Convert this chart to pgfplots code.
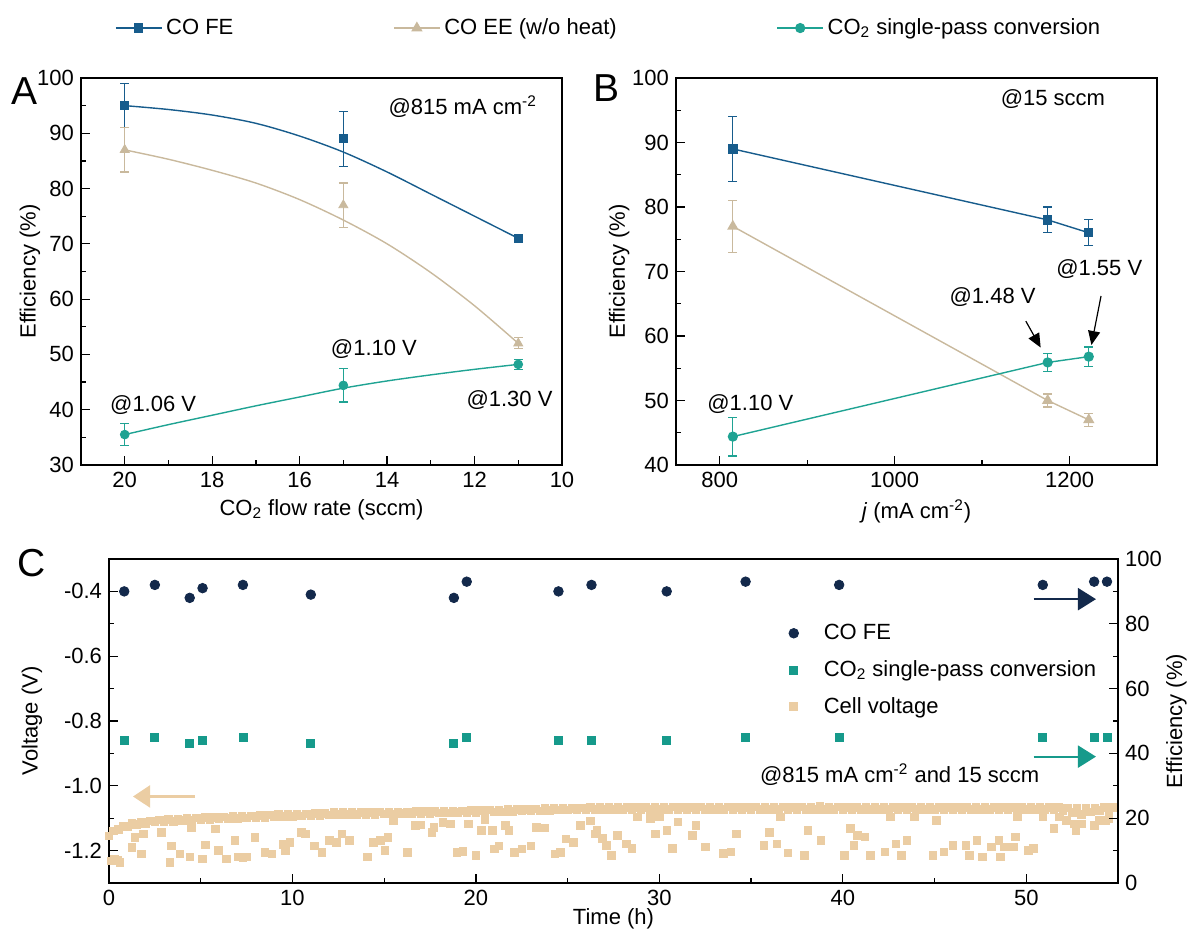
\documentclass[border=0pt]{standalone}
\usepackage{fontspec}
\setmainfont{Liberation Sans}
\usepackage{pgfplots}
\pgfplotsset{compat=1.18}
\usetikzlibrary{arrows.meta}

\definecolor{fe}{HTML}{175C8C}
\definecolor{ee}{HTML}{C9B99D}
\definecolor{cv}{HTML}{1FA393}
\definecolor{navy}{HTML}{13294B}
\definecolor{tealc}{HTML}{169A8B}
\definecolor{tanc}{HTML}{EBCDA3}

\newcommand\fs{\fontsize{11}{13}\selectfont}
\newcommand\panelfs{\fontsize{19.5}{21}\selectfont}

\pgfplotsset{
  base/.style={
    scale only axis,
    axis line style={line width=0.6pt},
    every tick/.style={black, line width=0.6pt},
    major tick length=4.5pt, minor tick length=2.5pt,
    tick label style={font=\fs},
    label style={font=\fs},
    /pgf/number format/assume math mode=true,
    /pgf/number format/set thousands separator={},
    clip mode=individual,
  },
  ebar/.style={error bars/.cd, y dir=both, y explicit,
    error bar style={#1, line width=0.6pt},
    error mark options={#1, rotate=90, line width=0.6pt, mark size=2.2pt}},
}

\begin{document}
\begin{tikzpicture}
\path[use as bounding box] (0,0) rectangle (595pt,468pt);

% ---------------- panel A ----------------
\begin{axis}[base, tick pos=left, at={(40.5pt,235.5pt)}, anchor=south west,
  width=240.5pt, height=193.5pt,
  xmin=10, xmax=21, x dir=reverse, xtick={10,12,...,20}, minor x tick num=1,
  ymin=30, ymax=100, ytick={30,40,...,100}, minor y tick num=1,
  xlabel={CO\textsubscript{2} flow rate (sccm)}, ylabel={Efficiency (\%)},
  xlabel style={at={(axis description cs:0.5,-0.116)}, anchor=center},
  ylabel style={at={(axis description cs:-0.106,0.5)}, anchor=center},
  legend columns=3,
  legend style={at={(axis description cs:0.058,1.129)}, anchor=west,
    draw=none, fill=none, font=\fs,
    /tikz/every even column/.append style={column sep=78pt}},
  legend image code/.code={\draw[mark repeat=2,mark phase=2,#1]
    plot coordinates {(0cm,0cm) (0.4cm,0cm) (0.8cm,0cm)};},
]
\addlegendimage{fe, line width=0.7pt, mark=square*, mark size=2pt}
\addlegendentry{CO FE}
\addlegendimage{ee, line width=0.7pt, mark=triangle*, mark size=2.6pt}
\addlegendentry{CO EE (w/o heat)}
\addlegendimage{cv, line width=0.7pt, mark=*, mark size=2.2pt}
\addlegendentry{CO\textsubscript{2} single-pass conversion}

% fitted curves as drawn in the figure
\addplot[fe, line width=0.7pt, smooth, forget plot] coordinates {
  (20,95) (19,94.3) (18,93.3) (17,91.8) (16,89.5) (15,86.6) (14,83) (13,79) (12,75) (11,71)};
\addplot[ee, line width=0.7pt, smooth, forget plot] coordinates {
  (20,87) (19,85.3) (18,83.3) (17,81) (16,78) (15,74.3) (14,70) (13,64.8) (12,58.8) (11,52)};
\addplot[cv, line width=0.7pt, smooth, forget plot] coordinates {
  (20,35.5) (19,37.3) (18,39.0) (17,40.7) (16,42.3) (15,43.9) (14,45.2) (13,46.3) (12,47.3) (11,48.2)};

\addplot[fe, only marks, mark=square*, mark size=2pt, forget plot, ebar=fe] coordinates {
  (20,95) +- (0,4) (15,89) +- (0,5) (11,71) +- (0,0.7)};
\addplot[ee, only marks, mark=triangle*, mark size=2.6pt, forget plot, ebar=ee] coordinates {
  (20,87) +- (0,4) (15,77) +- (0,4) (11,52) +- (0,1)};
\addplot[cv, only marks, mark=*, mark size=2.2pt, forget plot, ebar=cv] coordinates {
  (20,35.5) +- (0,2) (15,44.4) +- (0,3) (11,48.2) +- (0,0.9)};

\node[font=\fs] at (axis cs:12.27,94.9) {@815 mA cm\textsuperscript{-2}};
\node[font=\fs] at (axis cs:14.3,51) {@1.10 V};
\node[font=\fs] at (axis cs:19.35,40.9) {@1.06 V};
\node[font=\fs] at (axis cs:11.2,41.8) {@1.30 V};
\end{axis}

% ---------------- panel B ----------------
\begin{axis}[base, tick pos=left, at={(338pt,235.5pt)}, anchor=south west,
  width=240.5pt, height=193.5pt,
  xmin=750, xmax=1300, xtick={800,1000,1200}, minor x tick num=1,
  ymin=40, ymax=100, ytick={40,50,...,100}, minor y tick num=1,
  xlabel={\textit{j} (mA cm\textsuperscript{-2})}, ylabel={Efficiency (\%)},
  xlabel style={at={(axis description cs:0.5,-0.121)}, anchor=center},
  ylabel style={at={(axis description cs:-0.118,0.5)}, anchor=center},
]
\addplot[fe, line width=0.7pt, mark=square*, mark size=2pt, mark options={solid}, ebar=fe] coordinates {
  (815,89) +- (0,5) (1175,78) +- (0,2) (1222,76) +- (0,2)};
\addplot[ee, line width=0.7pt, mark=triangle*, mark size=2.6pt, ebar=ee] coordinates {
  (815,77) +- (0,4) (1175,50) +- (0,1) (1222,47) +- (0,1)};
\addplot[cv, line width=0.7pt, mark=*, mark size=2.2pt, ebar=cv] coordinates {
  (815,44.4) +- (0,3) (1175,55.9) +- (0,1.4) (1222,56.8) +- (0,1.5)};

\node[font=\fs] at (axis cs:1181,96.7) {@15 sccm};
\node[font=\fs] at (axis cs:1234,70.4) {@1.55 V};
\node[font=\fs] at (axis cs:1112,66.1) {@1.48 V};
\node[font=\fs] at (axis cs:835,49.4) {@1.10 V};
\draw[-{Triangle[length=7pt,width=6pt]}, line width=0.6pt] (axis cs:1150,62.3) -- (axis cs:1167,58.2);
\draw[-{Triangle[length=7pt,width=6pt]}, line width=0.6pt] (axis cs:1236,66.2) -- (axis cs:1225,58.6);
\end{axis}

% ---------------- panel C, left axis: cell voltage ----------------
\begin{axis}[base, tick pos=left, at={(54.5pt,26.5pt)}, anchor=south west,
  width=504.5pt, height=162pt,
  xmin=0, xmax=55, xtick={0,10,...,50}, minor x tick num=1,
  ymin=-1.3, ymax=-0.3, ytick={-1.2,-1.0,-0.8,-0.6,-0.4},
  yticklabels={-1.2,-1.0,-0.8,-0.6,-0.4}, minor y tick num=1,
  xlabel={Time (h)}, ylabel={Voltage (V)},
  xlabel style={at={(axis description cs:0.5,-0.11)}, anchor=center},
  ylabel style={at={(axis description cs:-0.0763,0.5)}, anchor=center},
]
% main band
\addplot[only marks, mark=square*, mark size=1.9pt, color=tanc] coordinates {
(0,-1.155) (0.25,-1.139) (0.5,-1.135) (0.75,-1.124) (1,-1.126) (1.25,-1.116) (1.5,-1.120) (1.75,-1.112)
(2,-1.116) (2.25,-1.108) (2.5,-1.112) (2.75,-1.105) (3,-1.110) (3.25,-1.103) (3.5,-1.109) (3.75,-1.102)
(4,-1.107) (4.25,-1.100) (4.5,-1.106) (4.75,-1.099) (5,-1.104) (5.25,-1.098) (5.5,-1.103) (5.75,-1.097)
(6,-1.102) (6.25,-1.096) (6.5,-1.101) (6.75,-1.095) (7,-1.100) (7.25,-1.094) (7.5,-1.099) (7.75,-1.093)
(8,-1.098) (8.25,-1.092) (8.5,-1.097) (8.75,-1.090) (9,-1.096) (9.25,-1.089) (9.5,-1.095) (9.75,-1.088)
(10,-1.094) (10.25,-1.088) (10.5,-1.093) (10.75,-1.087) (11,-1.092) (11.25,-1.086) (11.5,-1.091) (11.75,-1.085)
(12,-1.090) (12.25,-1.083) (12.5,-1.089) (12.75,-1.083) (13,-1.089) (13.25,-1.083) (13.5,-1.088) (13.75,-1.082)
(14,-1.088) (14.25,-1.082) (14.5,-1.088) (14.75,-1.081) (15,-1.087) (15.25,-1.081) (15.5,-1.087) (15.75,-1.080)
(16,-1.086) (16.25,-1.080) (16.5,-1.086) (16.75,-1.079) (17,-1.085) (17.25,-1.079) (17.5,-1.085) (17.75,-1.079)
(18,-1.084) (18.25,-1.078) (18.5,-1.084) (18.75,-1.077) (19,-1.083) (19.25,-1.077) (19.5,-1.083) (19.75,-1.076)
(20,-1.082) (20.25,-1.076) (20.5,-1.081) (20.75,-1.075) (21,-1.081) (21.25,-1.074) (21.5,-1.080) (21.75,-1.073)
(22,-1.079) (22.25,-1.073) (22.5,-1.078) (22.75,-1.072) (23,-1.078) (23.25,-1.071) (23.5,-1.077) (23.75,-1.070)
(24,-1.076) (24.25,-1.070) (24.5,-1.075) (24.75,-1.069) (25,-1.075) (25.25,-1.069) (25.5,-1.074) (25.75,-1.068)
(26,-1.074) (26.25,-1.067) (26.5,-1.073) (26.75,-1.067) (27,-1.072) (27.25,-1.066) (27.5,-1.072) (27.75,-1.066)
(28,-1.072) (28.25,-1.066) (28.5,-1.073) (28.75,-1.066) (29,-1.072) (29.25,-1.067) (29.5,-1.073) (29.75,-1.066)
(30,-1.072) (30.25,-1.066) (30.5,-1.073) (30.75,-1.065) (31,-1.072) (31.25,-1.066) (31.5,-1.073) (31.75,-1.066)
(32,-1.072) (32.25,-1.065) (32.5,-1.073) (32.75,-1.066) (33,-1.072) (33.25,-1.066) (33.5,-1.073) (33.75,-1.065)
(34,-1.072) (34.25,-1.066) (34.5,-1.074) (34.75,-1.066) (35,-1.073) (35.25,-1.065) (35.5,-1.072) (35.75,-1.066)
(36,-1.073) (36.25,-1.066) (36.5,-1.072) (36.75,-1.065) (37,-1.073) (37.25,-1.066) (37.5,-1.072) (37.75,-1.065)
(38,-1.073) (38.25,-1.066) (38.5,-1.072) (38.75,-1.064) (39,-1.072) (39.25,-1.066) (39.5,-1.073) (39.75,-1.065)
(40,-1.072) (40.25,-1.066) (40.5,-1.073) (40.75,-1.066) (41,-1.072) (41.25,-1.066) (41.5,-1.073) (41.75,-1.065)
(42,-1.072) (42.25,-1.066) (42.5,-1.073) (42.75,-1.066) (43,-1.072) (43.25,-1.066) (43.5,-1.073) (43.75,-1.066)
(44,-1.072) (44.25,-1.066) (44.5,-1.073) (44.75,-1.066) (45,-1.072) (45.25,-1.066) (45.5,-1.073) (45.75,-1.066)
(46,-1.072) (46.25,-1.066) (46.5,-1.073) (46.75,-1.066) (47,-1.072) (47.25,-1.066) (47.5,-1.073) (47.75,-1.066)
(48,-1.072) (48.25,-1.066) (48.5,-1.073) (48.75,-1.066) (49,-1.072) (49.25,-1.066) (49.5,-1.073) (49.75,-1.066)
(50,-1.072) (50.25,-1.066) (50.5,-1.073) (50.75,-1.066) (51,-1.072) (51.25,-1.066) (51.5,-1.073) (51.75,-1.067)
(52,-1.076) (52.25,-1.068) (52.5,-1.082) (52.75,-1.070) (53,-1.088) (53.25,-1.070) (53.5,-1.080) (53.75,-1.068)
(54,-1.076) (54.25,-1.067) (54.5,-1.073) (54.75,-1.067)
};
% scattered low points
\addplot[only marks, mark=square*, mark size=1.9pt, color=tanc] coordinates {
(0.1,-1.232) (0.3,-1.226) (0.45,-1.231) (0.6,-1.236) (1.24,-1.19) (1.42,-1.159) (1.78,-1.21) (1.87,-1.149)
(2.87,-1.144) (3.33,-1.236) (3.4,-1.185) (3.87,-1.21) (4.4,-1.22) (4.5,-1.128) (5.1,-1.226) (5.24,-1.183)
(5.8,-1.133) (5.96,-1.2) (6.4,-1.226) (6.87,-1.169) (7.05,-1.22) (7.3,-1.221) (7.5,-1.22) (7.96,-1.159)
(8.5,-1.205) (8.87,-1.21) (9.5,-1.18) (9.6,-1.2) (9.87,-1.174) (10.5,-1.144) (10.7,-1.149) (11.2,-1.185)
(11.6,-1.205) (12.0,-1.169) (12.4,-1.174) (12.7,-1.149) (13.1,-1.169) (14.1,-1.22) (14.4,-1.174) (14.8,-1.169)
(15.05,-1.2) (15.2,-1.159) (15.5,-1.108) (16.25,-1.205) (16.7,-1.123) (17.0,-1.121) (17.6,-1.144) (17.7,-1.128)
(18.2,-1.113) (18.6,-1.118) (18.96,-1.205) (19.3,-1.203) (19.6,-1.118) (20.0,-1.215) (20.3,-1.138) (20.5,-1.103)
(20.9,-1.138) (21.0,-1.195) (21.25,-1.185) (21.6,-1.123) (21.8,-1.138) (22.1,-1.205) (22.5,-1.195) (23.0,-1.185)
(23.3,-1.128) (23.75,-1.13) (24.3,-1.21) (24.6,-1.205) (24.9,-1.164) (25.3,-1.174) (25.7,-1.123) (26.25,-1.108)
(26.5,-1.149) (26.6,-1.138) (26.9,-1.163) (27.1,-1.184) (27.4,-1.215) (27.7,-1.153) (28.2,-1.179) (28.5,-1.194)
(28.8,-1.096) (29.5,-1.101) (29.8,-1.148) (30.0,-1.096) (30.4,-1.138) (30.7,-1.194) (31.0,-1.112) (31.8,-1.153)
(32.0,-1.122) (32.5,-1.189) (33.5,-1.209) (33.9,-1.204) (34.2,-1.148) (35.7,-1.184) (36.0,-1.143) (36.4,-1.179)
(36.6,-1.096) (37.0,-1.207) (37.9,-1.215) (38.1,-1.138) (38.8,-1.168) (40.1,-1.215) (40.4,-1.132) (40.6,-1.184)
(40.8,-1.153) (41.2,-1.158) (41.5,-1.215) (42.3,-1.204) (42.6,-1.096) (42.9,-1.179) (43.2,-1.215) (43.5,-1.168)
(43.9,-1.096) (44.9,-1.215) (45.1,-1.107) (45.5,-1.204) (46.0,-1.184) (46.7,-1.184) (46.9,-1.215) (47.3,-1.168)
(47.6,-1.22) (48.1,-1.189) (48.5,-1.168) (48.6,-1.22) (48.8,-1.189) (49.3,-1.189) (49.4,-1.158) (49.5,-1.096)
(50.1,-1.199) (50.4,-1.194) (50.9,-1.096) (51.5,-1.132) (51.8,-1.096) (52.2,-1.107) (52.6,-1.117) (52.7,-1.138)
(53.0,-1.117) (53.7,-1.122) (54.0,-1.107) (54.3,-1.107) (54.5,-1.101)
};
\draw[tanc, line width=1.1pt, -{Triangle[length=8.5pt,width=11pt]}] (axis cs:4.69,-1.033) -- (axis cs:1.31,-1.033);
\end{axis}

% ---------------- panel C, right axis: efficiencies ----------------
\begin{axis}[base, at={(54.5pt,26.5pt)}, anchor=south west,
  width=504.5pt, height=162pt,
  xmin=0, xmax=55, axis x line=none, axis y line*=right, ytick pos=right,
  ymin=0, ymax=100, ytick={0,20,...,100}, minor y tick num=1,
  ylabel={Efficiency (\%)},
  ylabel style={at={(axis description cs:1.058,0.5)}, anchor=center},
  legend cell align=left,
  legend style={at={(axis description cs:0.655,0.825)}, anchor=north west,
    draw=none, fill=none, font=\fs, row sep=5pt},
  legend image code/.code={\draw[#1] plot coordinates {(0.3cm,0cm)};
    \path (0cm,0cm) (0.75cm,0cm);},
]
\addplot[only marks, mark=*, mark size=2.4pt, color=navy] coordinates {
(0.83,90) (2.5,92) (4.4,88) (5.1,91) (7.3,92) (11.0,89) (18.8,88) (19.5,93)
(24.5,90) (26.3,92) (30.4,90) (34.7,93) (39.8,92) (50.9,92) (53.7,93) (54.4,93)};
\addlegendentry{CO FE}
\addplot[only marks, mark=square*, mark size=2pt, color=tealc] coordinates {
(0.83,44) (2.5,45) (4.4,43) (5.1,44) (7.3,45) (11.0,43) (18.8,43) (19.5,45)
(24.5,44) (26.3,44) (30.4,44) (34.7,45) (39.8,45) (50.9,45) (53.7,45) (54.4,45)};
\addlegendentry{CO\textsubscript{2} single-pass conversion}
\addlegendimage{only marks, mark=square*, mark size=2pt, color=tanc}
\addlegendentry{Cell voltage}

\node[font=\fs] at (axis cs:43.1,33.3) {@815 mA cm\textsuperscript{-2} and 15 sccm};
\draw[navy, line width=1.1pt, -{Triangle[length=9pt,width=11pt]}] (axis cs:50.4,87.6) -- (axis cs:53.8,87.6);
\draw[tealc, line width=1.1pt, -{Triangle[length=9pt,width=11pt]}] (axis cs:50.4,39.0) -- (axis cs:53.8,39.0);
\end{axis}

% panel letters
\node[font=\panelfs] at (12.5pt,422.5pt) {A};
\node[font=\panelfs] at (303.5pt,424pt) {B};
\node[font=\panelfs] at (16pt,186.5pt) {C};
\end{tikzpicture}
\end{document}
